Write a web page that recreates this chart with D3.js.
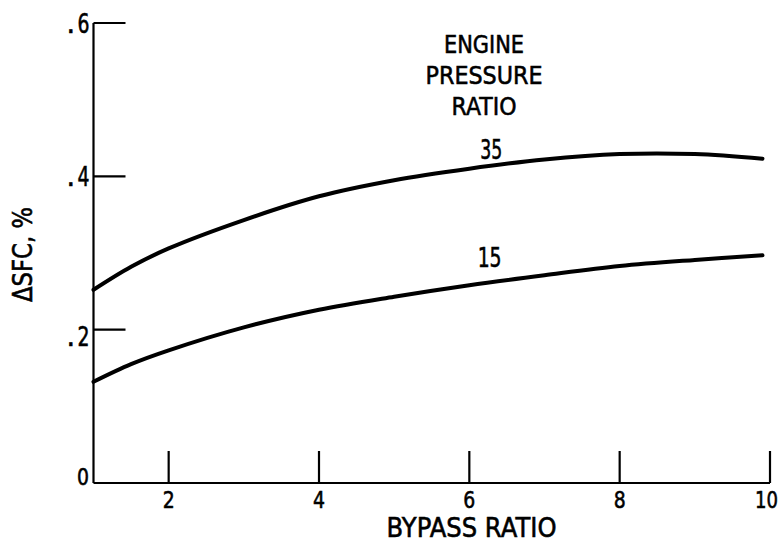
<!DOCTYPE html>
<html>
<head>
<meta charset="utf-8">
<script src="https://cdn.jsdelivr.net/npm/d3@7"></script>
<style>
  html, body { margin: 0; padding: 0; background: #fff; }
  svg { display: block; }
  text { font-family: "DejaVu Sans", sans-serif; fill: #000; stroke: #000; stroke-width: 0.6px; }
</style>
</head>
<body>
<svg id="chart" width="784" height="545"></svg>
<script>
// ---- data ----
const bypassRatio = [1, 1.5, 2, 3, 4, 5, 6, 7, 8, 9, 9.9];
const sfcEPR35 = [0.252, 0.282, 0.306, 0.343, 0.374, 0.395, 0.410, 0.422, 0.429, 0.429, 0.423];
const sfcEPR15 = [0.132, 0.155, 0.173, 0.203, 0.226, 0.243, 0.258, 0.271, 0.283, 0.291, 0.297];
const seriesLabels = ["35", "15"];
const xTicks = [2, 4, 6, 8, 10];
const yTicks = [0.2, 0.4, 0.6];
const yTickLabels = [".2", ".4", ".6"];

const svg = d3.select("#chart");
const x = d3.scaleLinear().domain([1, 10]).range([93.5, 770]);
const y = d3.scaleLinear().domain([0, 0.6]).range([483, 23]);

// axes lines
const ax = svg.append("g").attr("stroke", "#000").attr("stroke-width", 2.2).attr("fill", "none");
ax.append("line").attr("x1", x(1)).attr("x2", x(1)).attr("y1", y(0.6)).attr("y2", y(0));
ax.append("line").attr("x1", x(1)).attr("x2", x(10)).attr("y1", y(0)).attr("y2", y(0));

// x ticks (inward, upward)
ax.selectAll(".xt").data(xTicks).enter().append("line")
  .attr("x1", d => x(d)).attr("x2", d => x(d))
  .attr("y1", y(0)).attr("y2", y(0) - 32);
// y ticks (inward, rightward)
ax.selectAll(".yt").data(yTicks).enter().append("line")
  .attr("x1", x(1)).attr("x2", x(1) + 32)
  .attr("y1", d => y(d)).attr("y2", d => y(d));

// x tick labels
svg.selectAll(".xl").data(xTicks).enter().append("text")
  .attr("x", d => d === 10 ? x(d) - 3.5 : x(d))
  .attr("y", 508)
  .attr("text-anchor", "middle")
  .attr("font-size", 23)
  .attr("textLength", d => d === 10 ? 23 : 12)
  .attr("lengthAdjust", "spacingAndGlyphs")
  .text(d => d);

// y tick labels: dot and digit set apart as in the original lettering
const yLabelShift = [16, 10, 10];
const yl = svg.selectAll(".yl").data(yTicks).enter().append("g");
yl.append("text")
  .attr("x", x(1) - 4)
  .attr("y", (d, i) => y(d) + yLabelShift[i])
  .attr("text-anchor", "end")
  .attr("font-size", 27)
  .attr("textLength", 12)
  .attr("lengthAdjust", "spacingAndGlyphs")
  .text((d, i) => yTickLabels[i].slice(1));
yl.append("text")
  .attr("x", x(1) - 27)
  .attr("y", (d, i) => y(d) + yLabelShift[i])
  .attr("text-anchor", "start")
  .attr("font-size", 27)
  .text((d, i) => yTickLabels[i].slice(0, 1));
svg.append("text")
  .attr("x", x(1) - 4.5).attr("y", y(0) + 2)
  .attr("text-anchor", "end").attr("font-size", 23)
  .attr("textLength", 12).attr("lengthAdjust", "spacingAndGlyphs")
  .text("0");

// axis titles
svg.append("text")
  .attr("x", 471.5).attr("y", 536.5)
  .attr("text-anchor", "middle").attr("font-size", 27)
  .attr("textLength", 170).attr("lengthAdjust", "spacingAndGlyphs")
  .text("BYPASS RATIO");
svg.append("text")
  .attr("transform", "translate(32,254.5) rotate(-90)")
  .attr("text-anchor", "middle").attr("font-size", 26)
  .attr("textLength", 95).attr("lengthAdjust", "spacingAndGlyphs")
  .text("\u0394SFC, %");

// legend title
const lt = ["ENGINE", "PRESSURE", "RATIO"];
const ltw = [80, 117, 65];
svg.selectAll(".lt").data(lt).enter().append("text")
  .attr("x", 484)
  .attr("y", (d, i) => 53 + i * 31)
  .attr("text-anchor", "middle").attr("font-size", 25)
  .attr("textLength", (d, i) => ltw[i]).attr("lengthAdjust", "spacingAndGlyphs")
  .text(d => d);

// curves
const line = d3.line()
  .x(d => x(d[0])).y(d => y(d[1]))
  .curve(d3.curveCatmullRom.alpha(0.5));
[sfcEPR35, sfcEPR15].forEach(vals => {
  svg.append("path")
    .datum(bypassRatio.map((b, i) => [b, vals[i]]))
    .attr("d", line)
    .attr("fill", "none").attr("stroke", "#000")
    .attr("stroke-width", 4).attr("stroke-linecap", "round");
});

// curve labels
const labelPos = [[6.29, 0.4226], [6.27, 0.2817]];
svg.selectAll(".cl").data(seriesLabels).enter().append("text")
  .attr("x", (d, i) => x(labelPos[i][0]))
  .attr("y", (d, i) => y(labelPos[i][1]))
  .attr("text-anchor", "middle").attr("font-size", 27)
  .attr("textLength", (d, i) => i === 0 ? 22 : 24).attr("lengthAdjust", "spacingAndGlyphs")
  .text(d => d);
</script>
</body>
</html>
